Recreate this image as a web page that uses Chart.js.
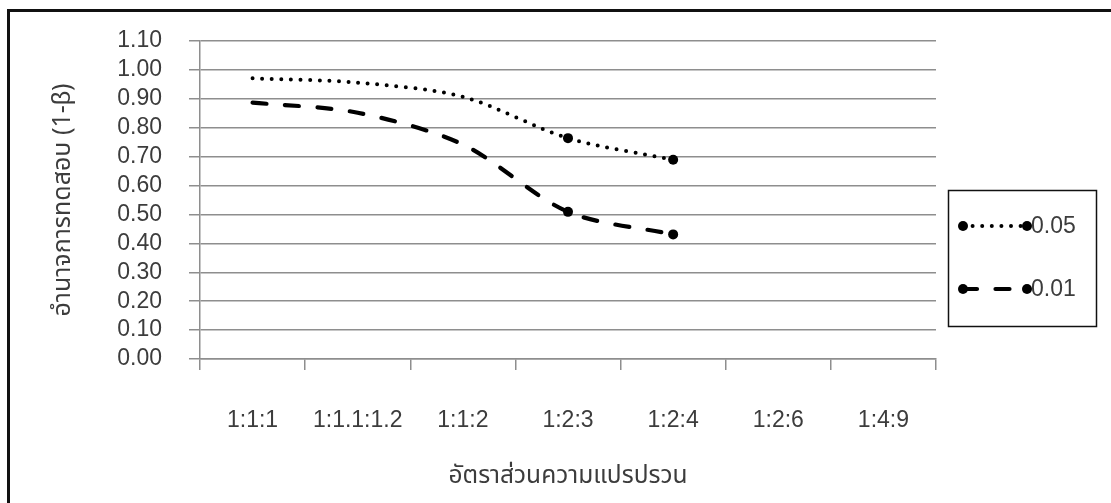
<!DOCTYPE html>
<html>
<head>
<meta charset="utf-8">
<script src="https://cdn.jsdelivr.net/npm/chart.js@4/dist/chart.umd.min.js"></script>
<style>
  html, body { margin: 0; padding: 0; background: #ffffff; }
  #wrap { width: 1111px; height: 503px; position: relative; }
</style>
</head>
<body>
<div id="wrap"><canvas id="power" width="1111" height="503"></canvas></div>
<script>
// Variance ratios on the x axis
const categories = ['1:1:1', '1:1.1:1.2', '1:1:2', '1:2:3', '1:2:4', '1:2:6', '1:4:9'];
// Power of the test (1-β) at each significance level
const power05 = [0.971, 0.956, 0.907, 0.764, 0.689, null, null];
const power01 = [0.887, 0.852, 0.742, 0.509, 0.431, null, null];
const seriesLabels = ['0.05', '0.01'];
// Marker shown only on selected points
const markerRadius = [0, 0, 0, 5, 5, 0, 0];
// Y axis tick values
const yTicks = [0, 0.1, 0.2, 0.3, 0.4, 0.5, 0.6, 0.7, 0.8, 0.9, 1.0, 1.1];

const yTitle = 'อำนาจการทดสอบ (1-β)';
const xTitle = 'อัตราส่วนความแปรปรวน';

const TEXT = '#3c3c3c';
const GRID = '#8e8e8e';
const LATIN = "'Liberation Sans', Arial, sans-serif";
const THAI = "'Noto Sans Thai', 'Noto Sans Thai Looped', 'Tlwg Typo', Garuda, Loma, 'Liberation Sans', sans-serif";

// Frame lines along the top and left edges
const framePlugin = {
  id: 'frame',
  beforeDraw(chart) {
    const ctx = chart.ctx;
    ctx.save();
    ctx.fillStyle = '#ffffff';
    ctx.fillRect(0, 0, chart.width, chart.height);
    ctx.strokeStyle = '#111111';
    ctx.lineWidth = 3;
    ctx.beginPath();
    ctx.moveTo(8.5, chart.height);
    ctx.lineTo(8.5, 10.5);
    ctx.lineTo(chart.width, 10.5);
    ctx.stroke();
    ctx.restore();
  }
};

// Boxed legend drawn from the dataset styles
const boxLegend = {
  id: 'boxLegend',
  afterDraw(chart) {
    const ctx = chart.ctx;
    const box = { x: 948.5, y: 190.5, w: 148, h: 136 };
    ctx.save();
    ctx.strokeStyle = '#111111';
    ctx.lineWidth = 1.5;
    ctx.strokeRect(box.x, box.y, box.w, box.h);
    const rows = [226, 289];
    chart.data.datasets.forEach((ds, i) => {
      const y = rows[i];
      const x1 = 963, x2 = 1027;
      ctx.save();
      ctx.strokeStyle = ds.borderColor;
      ctx.lineWidth = ds.borderWidth;
      ctx.lineCap = ds.borderCapStyle || 'butt';
      ctx.setLineDash(ds.borderDash || []);
      ctx.beginPath();
      ctx.moveTo(x1, y);
      ctx.lineTo(x2, y);
      ctx.stroke();
      ctx.restore();
      ctx.fillStyle = ds.pointBackgroundColor;
      [x1, x2].forEach(px => {
        ctx.beginPath();
        ctx.arc(px, y, 5, 0, Math.PI * 2);
        ctx.fill();
      });
      ctx.fillStyle = TEXT;
      ctx.font = '23px ' + LATIN;
      ctx.textAlign = 'left';
      ctx.textBaseline = 'middle';
      ctx.fillText(ds.label, 1031, y + 1);
    });
    ctx.restore();
  }
};

new Chart(document.getElementById('power'), {
  type: 'line',
  data: {
    labels: categories,
    datasets: [
      {
        label: seriesLabels[0],
        data: power05,
        borderColor: '#000000',
        borderWidth: 4,
        borderDash: [0, 9.6],
        borderCapStyle: 'round',
        tension: 0.3,
        fill: false,
        pointRadius: markerRadius,
        pointHoverRadius: markerRadius,
        pointBackgroundColor: '#000000',
        pointBorderWidth: 0
      },
      {
        label: seriesLabels[1],
        data: power01,
        borderColor: '#000000',
        borderWidth: 4.2,
        borderDash: [14, 18.5],
        borderCapStyle: 'round',
        tension: 0.3,
        fill: false,
        pointRadius: markerRadius,
        pointHoverRadius: markerRadius,
        pointBackgroundColor: '#000000',
        pointBorderWidth: 0
      }
    ]
  },
  options: {
    responsive: false,
    animation: false,
    devicePixelRatio: 1,
    layout: { padding: { left: 0, top: 41, right: 175, bottom: 0 } },
    plugins: {
      legend: { display: false },
      tooltip: { enabled: false }
    },
    scales: {
      x: {
        type: 'category',
        offset: true,
        afterFit(scale) { scale.height = 144; },
        border: { display: true, color: GRID, width: 1.5 },
        grid: {
          offset: true,
          drawOnChartArea: false,
          drawTicks: true,
          tickLength: 11,
          color: GRID,
          lineWidth: 1.5
        },
        ticks: {
          color: TEXT,
          font: { family: LATIN, size: 23 },
          padding: 37,
          maxRotation: 0,
          autoSkip: false
        },
        title: {
          display: true,
          text: xTitle,
          color: TEXT,
          font: { family: THAI, size: 24.5 },
          padding: { top: 0, bottom: 10 }
        }
      },
      y: {
        min: 0,
        max: 1.1,
        afterFit(scale) { scale.width = 200; },
        afterBuildTicks(scale) { scale.ticks = yTicks.map(v => ({ value: v })); },
        border: { display: true, color: GRID, width: 1.5 },
        grid: {
          drawTicks: true,
          tickLength: 11,
          color: GRID,
          lineWidth: 1.5
        },
        ticks: {
          color: TEXT,
          font: { family: LATIN, size: 23 },
          padding: 27,
          autoSkip: false,
          callback: v => Number(v).toFixed(2)
        },
        title: {
          display: true,
          text: yTitle,
          color: TEXT,
          font: { family: THAI, size: 25 },
          padding: { top: 50, bottom: 0 }
        }
      }
    }
  },
  plugins: [framePlugin, boxLegend]
});
</script>
</body>
</html>
